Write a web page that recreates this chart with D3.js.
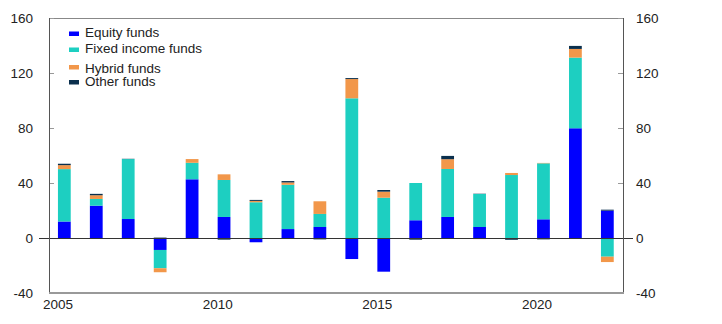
<!DOCTYPE html>
<html>
<head>
<meta charset="utf-8">
<script src="https://cdn.jsdelivr.net/npm/d3@7"></script>
<style>
  html, body { margin: 0; padding: 0; background: #fff; }
  svg { display: block; }
  text { font-family: "Liberation Sans", Arial, sans-serif; fill: #222; }
</style>
</head>
<body>
<div id="chart"></div>
<script>
// ---- Data ----
const years = [2005, 2006, 2007, 2008, 2009, 2010, 2011, 2012, 2013, 2014, 2015, 2016, 2017, 2018, 2019, 2020, 2021, 2022];
const equityFunds      = [12, 23.5, 13.8, -8.7, 42.7, 15.3, -3.1, 6.5, 8, -15.3, -24.5, 12.9, 15.3, 8, -0.6, 13.6, 79.8, 19.9];
const fixedIncomeFunds = [38.1, 4.9, 43.6, -13.3, 12, 26.9, 26, 32.2, 9.5, 101.6, 29.3, 27.1, 34.9, 24, 45.8, 40.7, 51.4, -13.6];
const hybridFunds      = [2.9, 2.7, -0.3, -2.9, 2.7, 4.1, 1, 1.7, 9.2, 14, 4.4, -0.8, 7.1, -0.8, 1.5, 0.3, 6.3, -3.9];
const otherFunds       = [1, 1, 0.2, 0.3, -0.4, -1.2, 0.7, 1, -1, 0.7, 1.2, -0.5, 2.4, 0.2, -0.7, -1, 2.2, 0.7];
const seriesNames  = ["Equity funds", "Fixed income funds", "Hybrid funds", "Other funds"];
const seriesColors = ["#0000ff", "#1dcfc1", "#f2974a", "#0a2f4d"];
const yTicks = [-40, 0, 40, 80, 120, 160];
const xTickYears = [2005, 2010, 2015, 2020];

// ---- Layout ----
const W = 722, H = 324;
const m = { left: 49, right: 99, top: 18, bottom: 31 };
const svg = d3.select("#chart").append("svg").attr("width", W).attr("height", H);

const x = d3.scaleLinear().domain([2004.72, 2022.69]).range([m.left, W - m.right]);
const y = d3.scaleLinear().domain([-40, 160]).range([H - m.bottom, m.top]);
const barSpan = 0.4;

// ---- Stack (diverging) ----
const seriesData = [equityFunds, fixedIncomeFunds, hybridFunds, otherFunds];
const rows = years.map((yr, i) => {
  const r = { year: yr };
  seriesNames.forEach((n, k) => r[n] = seriesData[k][i]);
  return r;
});
const stack = d3.stack().keys(seriesNames).offset(d3.stackOffsetDiverging);
const stacked = stack(rows);

// ---- Frame ----
const fontSize = "13.5px";
svg.append("line").attr("x1", x.range()[0]).attr("x2", x.range()[1])
  .attr("y1", y(160) + 0.5).attr("y2", y(160) + 0.5).attr("stroke", "#888").attr("stroke-width", 1);

// y tick marks (inward)
yTicks.forEach(t => {
  const yy = Math.round(y(t)) + 0.5;
  svg.append("line").attr("x1", x.range()[0]).attr("x2", x.range()[0] + 5)
    .attr("y1", yy).attr("y2", yy).attr("stroke", "#999");
  svg.append("line").attr("x1", x.range()[1] - 5).attr("x2", x.range()[1])
    .attr("y1", yy).attr("y2", yy).attr("stroke", "#999");
  svg.append("text").attr("x", x.range()[0] - 16).attr("y", y(t))
    .attr("text-anchor", "end").attr("dominant-baseline", "central")
    .style("font-size", fontSize).text(t);
  svg.append("text").attr("x", x.range()[1] + 13).attr("y", y(t))
    .attr("text-anchor", "start").attr("dominant-baseline", "central")
    .style("font-size", fontSize).text(t);
});

// ---- Bars ----
const g = svg.append("g");
stacked.forEach((s, k) => {
  g.selectAll(null).data(s).enter().append("rect")
    .attr("x", d => x(d.data.year))
    .attr("width", d => x(d.data.year + barSpan) - x(d.data.year))
    .attr("y", d => y(Math.max(d[0], d[1])))
    .attr("height", d => Math.abs(y(d[0]) - y(d[1])))
    .attr("fill", seriesColors[k]);
});

// zero line
svg.append("line").attr("x1", x.range()[0] - 10).attr("x2", x.range()[1] + 10)
  .attr("y1", Math.round(y(0)) + 0.5).attr("y2", Math.round(y(0)) + 0.5)
  .attr("stroke", "#333").attr("stroke-width", 1);

// left / right axis lines
svg.append("line").attr("x1", x.range()[0] + 0.5).attr("x2", x.range()[0] + 0.5)
  .attr("y1", y(160)).attr("y2", y(-40)).attr("stroke", "#555");
svg.append("line").attr("x1", x.range()[1] + 0.5).attr("x2", x.range()[1] + 0.5)
  .attr("y1", y(160)).attr("y2", y(-40)).attr("stroke", "#555");
// bottom axis
svg.append("line").attr("x1", x.range()[0]).attr("x2", x.range()[1] + 1)
  .attr("y1", y(-40)).attr("y2", y(-40)).attr("stroke", "#999").attr("stroke-width", 2);

// x labels
xTickYears.forEach(t => {
  svg.append("text").attr("x", x(t)).attr("y", y(-40) + 16)
    .attr("text-anchor", "middle").style("font-size", fontSize).text(t);
});

// ---- Legend ----
const legendSwatchTop = [31.5, 47.5, 65, 80];
const legendBaseline = [36.7, 53, 72.7, 86.3];
seriesNames.forEach((n, k) => {
  svg.append("rect").attr("x", 69).attr("y", legendSwatchTop[k]).attr("width", 10).attr("height", 4.5)
    .attr("fill", seriesColors[k]);
  svg.append("text").attr("x", 85).attr("y", legendBaseline[k])
    .style("font-size", fontSize).text(n);
});
</script>
</body>
</html>
